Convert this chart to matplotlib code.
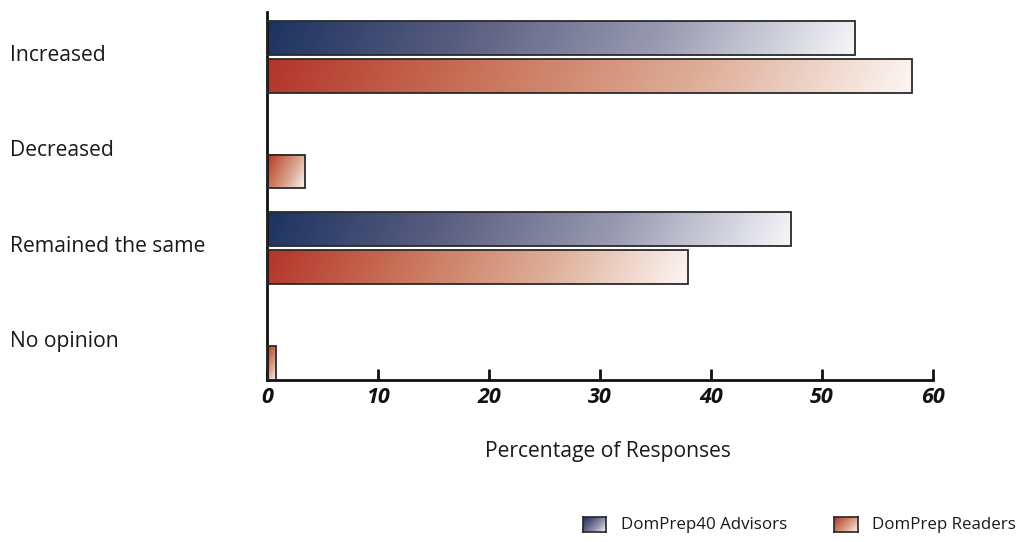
import numpy as np
import matplotlib
matplotlib.use("Agg")
import matplotlib.pyplot as plt
from matplotlib.colors import LinearSegmentedColormap
from matplotlib.patches import Rectangle
from matplotlib.transforms import blended_transform_factory

categories = ["Increased", "Decreased", "Remained the same", "No opinion"]
advisors = [53.0, 0.0, 47.2, 0.0]
readers = [58.1, 3.4, 37.9, 0.8]
series_names = ["DomPrep40 Advisors", "DomPrep Readers"]
xticks = [0, 10, 20, 30, 40, 50, 60]

plt.rcParams["font.family"] = ["Open Sans", "DejaVu Sans"]

navy_cmap = LinearSegmentedColormap.from_list(
    "navy", ["#1c3360", "#5a5e80", "#9a9bb2", "#f6f6f9"])
red_cmap = LinearSegmentedColormap.from_list(
    "red", ["#b3352a", "#c9735a", "#deae98", "#fcf6f3"])

fig = plt.figure(figsize=(10.34, 5.42), dpi=100)
ax = fig.add_axes([267 / 1034, 1 - 380 / 542, 666 / 1034, 368 / 542])
ax.set_xlim(0, 60)
ax.set_ylim(-0.38, 3.47)

bar_h = 0.355
offset = 0.199
px_per_x = 666 / 60
px_per_y = 368 / 3.85


def gradient_bar(x0, width, yc, cmap):
    if width <= 0:
        return
    yb, yt = yc - bar_h / 2, yc + bar_h / 2
    wpx = max(width * px_per_x, 1)
    hpx = bar_h * px_per_y
    k = 0.5
    nx, ny = 200, 40
    u = np.linspace(0, wpx, nx)[None, :]
    v = np.linspace(0, hpx, ny)[:, None]
    t = (u + k * v) / (wpx + k * hpx)
    ax.imshow(t, cmap=cmap, vmin=0, vmax=1, origin="upper",
              extent=[x0, x0 + width, yb, yt], aspect="auto",
              interpolation="bilinear", zorder=2)
    ax.add_patch(Rectangle((x0, yb), width, bar_h, fill=False,
                           edgecolor="#2a2a2a", linewidth=1.3, zorder=3))


n = len(categories)
for i, cat in enumerate(categories):
    yc = n - 1 - i
    gradient_bar(0, advisors[i], yc + offset, navy_cmap)
    gradient_bar(0, readers[i], yc - offset, red_cmap)

# category labels at the far left of the figure
trans = blended_transform_factory(fig.transFigure, ax.transData)
for i, cat in enumerate(categories):
    yc = n - 1 - i
    ax.text(10 / 1034, yc + 0.02, cat, transform=trans, ha="left",
            va="center", fontsize=15.2, color="#1a1a1a")

ax.set_yticks([])
for s in ["top", "right"]:
    ax.spines[s].set_visible(False)
for s in ["left", "bottom"]:
    ax.spines[s].set_linewidth(2)
    ax.spines[s].set_color("#111111")

ax.set_xticks(xticks)
ax.set_xticklabels([str(v) for v in xticks], fontsize=15.5,
                   fontweight="bold", fontstyle="italic")
ax.tick_params(axis="x", direction="in", length=8, width=2,
               pad=5, colors="#111111")
ax.set_xlabel("Percentage of Responses", fontsize=15.2, color="#1a1a1a")
ax.xaxis.set_label_coords((608 - 267) / 666, -(452 - 380) / 368)
ax.xaxis.label.set_va("center")

# legend drawn with gradient swatches
for (x0, w, cmap, name, tx) in [
        (583, 23, navy_cmap, series_names[0], 621),
        (834, 24, red_cmap, series_names[1], 872)]:
    sw = fig.add_axes([x0 / 1034, 1 - 532 / 542, w / 1034, 15 / 542])
    uu = np.linspace(0, 1, 60)[None, :]
    vv = np.linspace(0, 1, 20)[:, None]
    sw.imshow((uu + 0.6 * vv) / 1.6, cmap=cmap, vmin=0, vmax=1,
              aspect="auto", origin="upper", interpolation="bilinear")
    sw.set_xticks([])
    sw.set_yticks([])
    for s in sw.spines.values():
        s.set_linewidth(1.2)
        s.set_color("#262626")
    fig.text(tx / 1034, 1 - 525 / 542, name, ha="left", va="center",
             fontsize=12.2, color="#1a1a1a")

fig.savefig("out.png", dpi=100)
